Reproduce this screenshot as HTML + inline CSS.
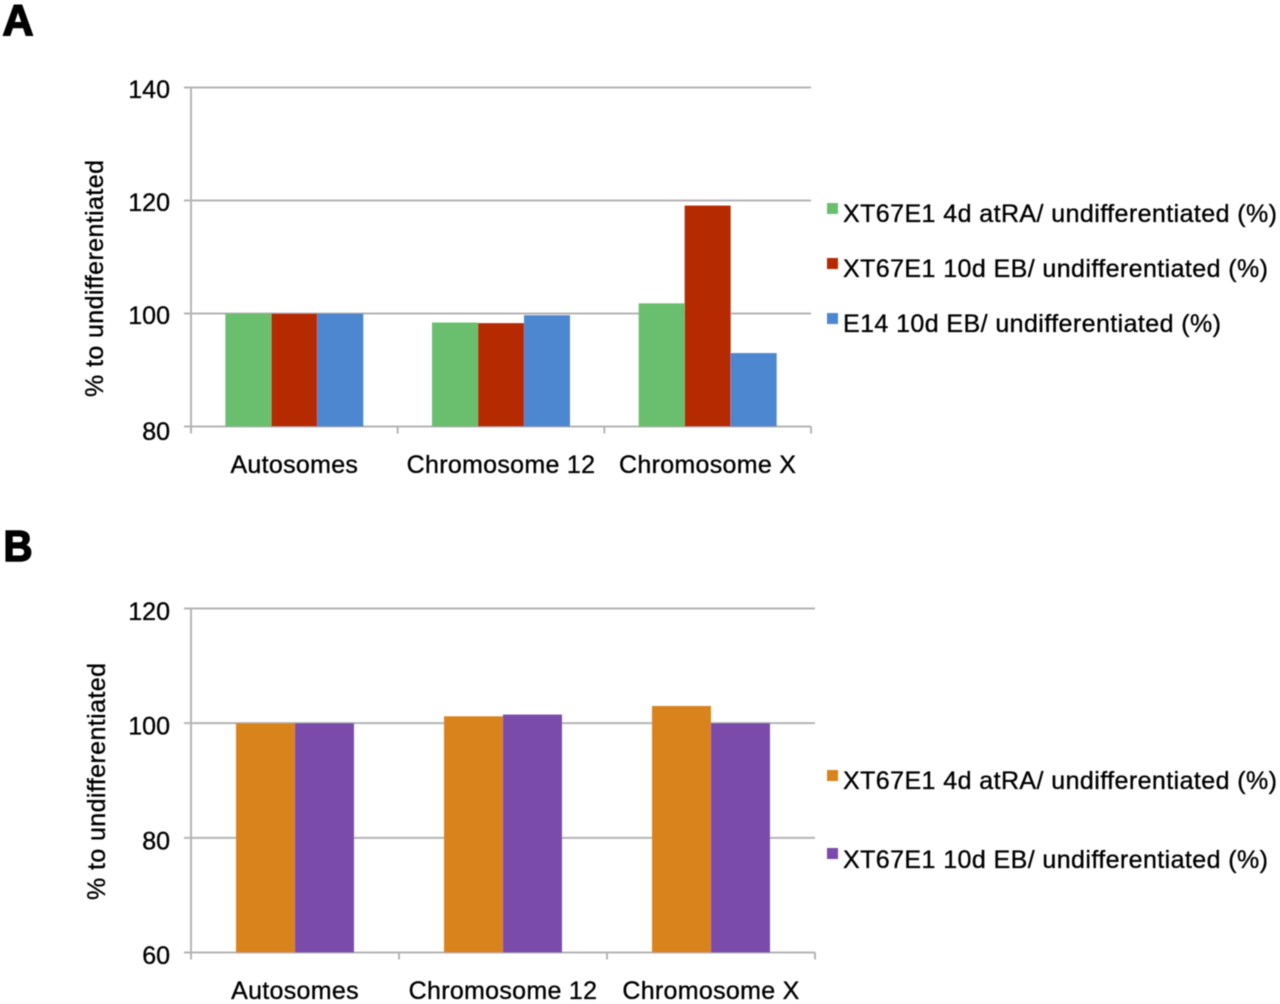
<!DOCTYPE html>
<html lang="en">
<head>
<meta charset="utf-8">
<title>Expression relative to undifferentiated cells</title>
<style>
html,body{margin:0;padding:0;background:#fff;}
body{width:1280px;height:1004px;overflow:hidden;}
svg{display:block;}
text{font-family:"Liberation Sans",sans-serif;fill:#000;font-size:25px;stroke:#000;stroke-width:0.35px;}
.cat{letter-spacing:0.3px;text-anchor:middle;}
.tick{text-anchor:end;}
.letter{font-weight:bold;font-size:44px;stroke:#000;stroke-width:1.6px;fill:#000;}
</style>
</head>
<body>
<svg id="figure" width="1280" height="1004" viewBox="0 0 1280 1004" xmlns="http://www.w3.org/2000/svg">
  <defs><filter id="soft" x="-2%" y="-2%" width="104%" height="104%"><feGaussianBlur stdDeviation="0.55"/></filter></defs>
  <g id="root" filter="url(#soft)">
    <text class="letter" x="2.5" y="35" textLength="31" lengthAdjust="spacingAndGlyphs">A</text>
    <text class="letter" x="3.5" y="561" textLength="29" lengthAdjust="spacingAndGlyphs">B</text>
    <text transform="translate(103,397) rotate(-90)" textLength="237" lengthAdjust="spacing">% to undifferentiated</text>
    <text transform="translate(105,900) rotate(-90)" textLength="237" lengthAdjust="spacing">% to undifferentiated</text>

    <rect x="827" y="203" width="11" height="11" fill="#6bbf6e"/>
    <text x="843" y="222" textLength="434" lengthAdjust="spacing">XT67E1 4d atRA/ undifferentiated (%)</text>
    <rect x="827" y="258" width="11" height="11" fill="#b52a00"/>
    <text x="843" y="277" textLength="425" lengthAdjust="spacing">XT67E1 10d EB/ undifferentiated (%)</text>
    <rect x="827" y="313" width="11" height="11" fill="#4d87cf"/>
    <text x="843" y="332" textLength="378" lengthAdjust="spacing">E14 10d EB/ undifferentiated (%)</text>

    <rect x="827" y="770" width="11" height="11" fill="#d9831f"/>
    <text x="843" y="789" textLength="434" lengthAdjust="spacing">XT67E1 4d atRA/ undifferentiated (%)</text>
    <rect x="827" y="848" width="11" height="11" fill="#7a4bab"/>
    <text x="843" y="868" textLength="425" lengthAdjust="spacing">XT67E1 10d EB/ undifferentiated (%)</text>
  </g>
</svg>
<script>
const categories = ['Autosomes', 'Chromosome 12', 'Chromosome X'];

const ticksA = [80, 100, 120, 140];
const atraA = [100, 98.4, 101.8];
const ebA = [100, 98.3, 119.1];
const e14A = [100, 99.7, 93];

const ticksB = [60, 80, 100, 120];
const atraB = [100, 101.2, 103];
const ebB = [100, 101.5, 100];

const NS = 'http://www.w3.org/2000/svg';
const root = document.getElementById('root');
const GRID = '#b4b4b4';

function make(tag, attrs) {
  const el = document.createElementNS(NS, tag);
  for (const k in attrs) el.setAttribute(k, attrs[k]);
  root.appendChild(el);
  return el;
}

function drawChart(panel, ticks, seriesList, colors, names, box, barW, labelBase, tickDy, firstTickExtra) {
  const min = ticks[0];
  const max = ticks[ticks.length - 1];
  const yScale = v => box.bottom - (v - min) / (max - min) * (box.bottom - box.top);
  const band = (box.right - box.left) / categories.length;
  const xCenter = i => box.left + band * (i + 0.5);

  ticks.forEach((t, n) => {
    const y = yScale(t);
    const grid = make('line', {x1: box.left - 7, x2: box.right, y1: y, y2: y, stroke: GRID, 'stroke-width': 2});
    
    
    const label = make('text', {class: 'tick', x: 170, y: y + tickDy + (n === 0 ? firstTickExtra : 0)});
    
    
    label.textContent = t;
  });

  const yAxis = make('line', {x1: box.left, x2: box.left, y1: box.top - 1, y2: box.bottom + 7, stroke: GRID, 'stroke-width': 2});
  
  

  for (let i = 1; i <= categories.length; i++) {
    const x = box.left + band * i;
    const mark = make('line', {x1: x, x2: x, y1: box.bottom, y2: box.bottom + 7, stroke: GRID, 'stroke-width': 2});
    
    
  }

  categories.forEach((c, i) => {
    seriesList.forEach((values, s) => {
      const x = xCenter(i) + (s - seriesList.length / 2) * barW;
      const y = yScale(values[i]);
      const bar = make('rect', {x: x, y: y, width: barW, height: yScale(min) - y, fill: colors[s]});
      
      
    });
    const label = make('text', {class: 'cat', x: xCenter(i), y: labelBase});
    
    
    label.textContent = c;
  });
}

drawChart('a', ticksA, [atraA, ebA, e14A], ['#6bbf6e', '#b52a00', '#4d87cf'], ['atra', 'eb', 'e14'],
  {left: 191, right: 811, top: 87.5, bottom: 426.5}, 46, 473, 10.5, 3);
drawChart('b', ticksB, [atraB, ebB], ['#d9831f', '#7a4bab'], ['atra', 'eb'],
  {left: 191, right: 815, top: 608.5, bottom: 952.5}, 59, 999, 11.5, 0);
</script>
</body>
</html>
